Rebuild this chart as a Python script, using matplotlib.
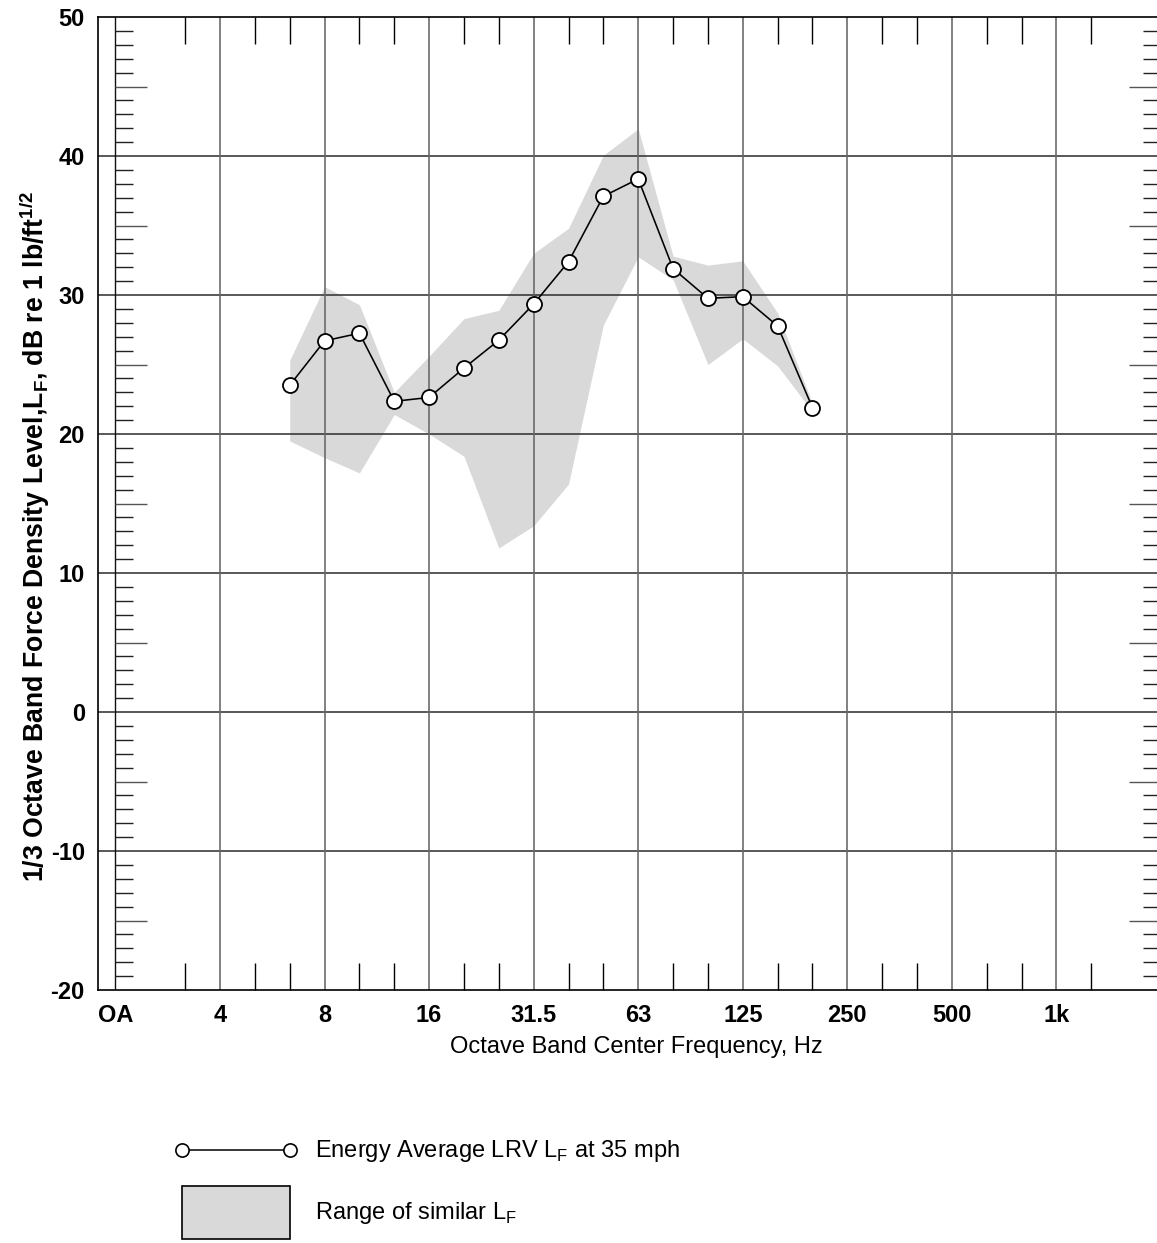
import numpy as np
import matplotlib
matplotlib.use("Agg")
import matplotlib.pyplot as plt
from matplotlib.lines import Line2D
from matplotlib.patches import Patch
from matplotlib.legend_handler import HandlerLine2D

plt.rcParams['font.family'] = ['Liberation Sans', 'DejaVu Sans']
plt.rcParams['mathtext.fontset'] = 'custom'
plt.rcParams['mathtext.rm'] = 'Liberation Sans'
plt.rcParams['mathtext.bf'] = 'Liberation Sans:bold'
plt.rcParams['axes.unicode_minus'] = False

# ---------------- data ----------------
freq_hz = [6.3, 8, 10, 12.5, 16, 20, 25, 31.5, 40, 50, 63, 80, 100, 125, 160, 200]
energy_avg = [23.5, 26.7, 27.25, 22.35, 22.63, 24.74, 26.75, 29.35, 32.39, 37.1,
              38.35, 31.9, 29.76, 29.88, 27.77, 21.89]
range_upper = [25.3, 30.6, 29.3, 23.0, 25.6, 28.3, 28.9, 33.0, 34.8, 40.05,
               41.96, 32.8, 32.15, 32.46, 28.7, 22.2]
range_lower = [19.5, 18.3, 17.2, 21.4, 20.0, 18.4, 11.8, 13.4, 16.4, 27.85,
               32.75, 31.1, 25.0, 26.85, 24.9, 21.6]

octave_labels = ['OA', '4', '8', '16', '31.5', '63', '125', '250', '500', '1k']
octave_freqs = [2, 4, 8, 16, 31.5, 63, 125, 250, 500, 1000]  # OA sits one octave below 4 Hz
ylim = (-20, 50)

# band index scale: 1/3-octave steps relative to 4 Hz
def band_pos(f):
    return np.round(3 * np.log2(np.asarray(f, dtype=float) / 4.0))

x = band_pos(freq_hz)
x_oct = band_pos(octave_freqs)
x_min, x_max = -3.5, 27.0

# ---------------- figure ----------------
W, H = 1157, 1243
fig = plt.figure(figsize=(W / 100, H / 100), dpi=100)
ax = fig.add_axes([98 / W, 253 / H, (1161 - 98) / W, (990 - 17) / H])
ax.set_xlim(x_min, x_max)
ax.set_ylim(*ylim)

px_x = (x_max - x_min) / (1161 - 98)   # data units per pixel (x)

# shaded range
ax.fill_between(x, range_lower, range_upper, color='#d9d9d9', lw=0, zorder=1)

# grid
for yv in range(ylim[0] + 10, ylim[1], 10):
    ax.axhline(yv, color='#333333', lw=1.15, zorder=2)
for xv in x_oct[1:]:
    ax.axvline(xv, color='#666666', lw=1.15, zorder=2)
ax.axvline(x_oct[0], color='#111111', lw=1.0, zorder=2)

# y minor ticks (left from OA line, right at spine)
ytr = ax.get_yaxis_transform()
ax_w_px = 1161 - 98
for yv in range(ylim[0] + 1, ylim[1]):
    if yv % 10 == 0:
        continue
    L = 32 if yv % 5 == 0 else 18
    col = '#555555' if yv % 5 == 0 else '#222222'
    ax.hlines(yv, x_oct[0], x_oct[0] + L * px_x, color=col, lw=1.0, zorder=2)
    ax.hlines(yv, 1 - L / ax_w_px, 1, color=col, lw=1.0, zorder=2, transform=ytr)

# line + markers
ax.plot(x, energy_avg, color='black', lw=1.15, marker='o', ms=10.8,
        mfc='white', mec='black', mew=1.3, zorder=4)

# x ticks
ax.set_xticks(x_oct)
ax.set_xticklabels(octave_labels)
minor = [i for i in range(-1, 26) if i % 3 != 0]
ax.set_xticks(minor, minor=True)
ax.tick_params(axis='x', which='minor', direction='in', length=19.5, width=1.0,
               color='black', top=True, bottom=True)
ax.tick_params(axis='x', which='major', length=0, pad=10, labelsize=17)
ax.set_yticks(range(ylim[0], ylim[1] + 1, 10))
ax.tick_params(axis='y', which='major', length=0, pad=9.5, labelsize=17)
for lab in ax.get_xticklabels() + ax.get_yticklabels():
    lab.set_fontweight('bold')

for s in ax.spines.values():
    s.set_linewidth(1.2)
    s.set_zorder(5)

ax.set_xlabel('Octave Band Center Frequency, Hz', fontsize=17)
ax.xaxis.set_label_coords((636.5 - 98) / ax_w_px, (990 - 1047) / 973)
ax.xaxis.label.set_va('center')
ax.set_ylabel(r'1/3 Octave Band Force Density Level,L$_\mathbf{F}$, dB re 1 lb/ft$^\mathbf{1/2}$',
              fontsize=19.2, fontweight='bold')
ax.yaxis.set_label_coords((35 - 98) / ax_w_px, (990 - 536.5) / 973)
ax.yaxis.label.set_va('center')


class CenteredLineHandler(HandlerLine2D):
    """Line handle lowered to sit on the text centre inside a tall handle box."""
    def __init__(self, dy=0.0, **kw):
        super().__init__(**kw)
        self._dy = dy

    def create_artists(self, legend, orig_handle, xdescent, ydescent,
                       width, height, fontsize, trans):
        arts = super().create_artists(legend, orig_handle, xdescent, ydescent,
                                      width, height, fontsize, trans)
        for a in arts:
            a.set_ydata(np.asarray(a.get_ydata()) - self._dy)
        return arts


# legend
fs = 17
fs_px = fs * 100 / 72
hh = (53 / fs_px - 0.245) / 0.65
h_line = Line2D([], [], color='black', lw=1.1, marker='o', ms=9.5, mfc='white',
                mec='black', mew=1.2)
h_patch = Patch(facecolor='#d9d9d9', edgecolor='black', lw=1.2)
leg = fig.legend([h_line, h_patch],
                 [r'Energy Average LRV L$_\mathregular{F}$ at 35 mph',
                  r'Range of similar L$_\mathregular{F}$'],
                 loc='upper left', bbox_to_anchor=(182 / W, (H - 1124) / H),
                 frameon=False, fontsize=fs, numpoints=2,
                 handlelength=108 / fs_px, handleheight=hh,
                 handletextpad=25 / fs_px, labelspacing=8.5 / fs_px,
                 borderpad=0, borderaxespad=0,
                 handler_map={Line2D: CenteredLineHandler(dy=6.5, marker_pad=0)})

fig.savefig('out.png', dpi=100)
